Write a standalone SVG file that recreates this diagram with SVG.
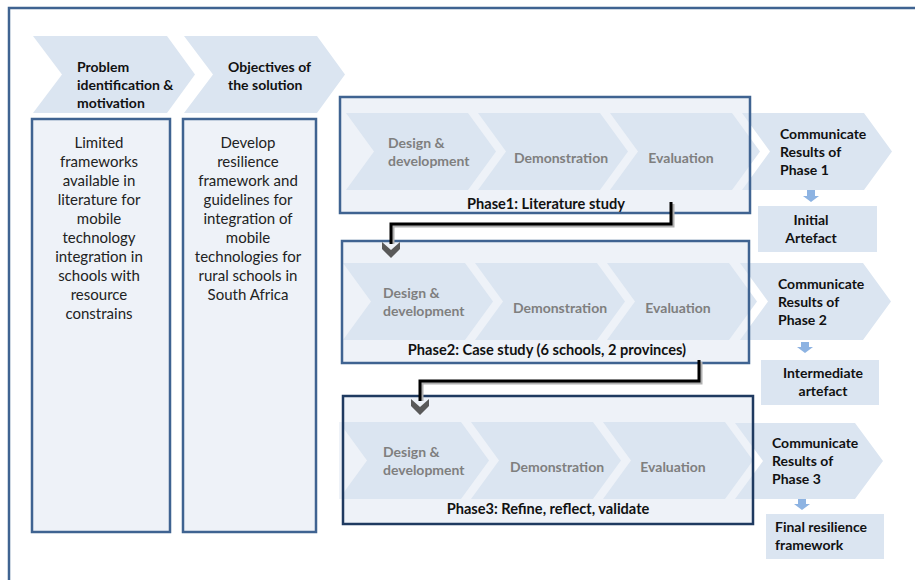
<svg xmlns="http://www.w3.org/2000/svg" width="915" height="580" viewBox="0 0 915 580">
<defs>
<style>
.chev{fill:#dbe5f1}
.pbox{fill:#eef2f8}
.pstroke{fill:none;stroke:#3f6391;stroke-width:2.5}
.pstroke3{fill:none;stroke:#1f3a60;stroke-width:2.5}
.tbox{fill:#eef2f8;stroke:#3f6391;stroke-width:2.5}
.abox{fill:#dbe5f1}
.t{font-family:Lato,"Liberation Sans",sans-serif;font-size:14px;font-weight:bold;fill:#111}
.p{font-family:Lato,"Liberation Sans",sans-serif;font-size:14.6px;font-weight:bold;fill:#111;text-anchor:middle}
.g{font-family:Lato,"Liberation Sans",sans-serif;font-size:14px;font-weight:bold;fill:#7f7f7f}
.b{font-family:Lato,"Liberation Sans",sans-serif;font-size:15px;fill:#222;text-anchor:middle}
.m{text-anchor:middle}
.conn{fill:none;stroke:#000;stroke-width:3}
.shadow{fill:none;stroke:#b0b0b0;stroke-width:3}
.darr{fill:#8db3e2}
.ahead{fill:#595959}
</style>
</defs>

<path d="M9,580 V8 H915" fill="none" stroke="#3f6391" stroke-width="2.5"/>

<g id="problem">
<path class="chev" d="M33,36 H167 L195,74.5 L167,113 H33 L62,74.5 Z"/>
<text class="t" x="77" y="71.5">Problem</text>
<text class="t" x="77" y="89.5">identification &amp;</text>
<text class="t" x="77" y="107.5">motivation</text>
</g>
<g id="objectives">
<path class="chev" d="M184,36 H317 L345,74.5 L317,113 H184 L213,74.5 Z"/>
<text class="t" x="228" y="71.5">Objectives of</text>
<text class="t" x="228" y="89.5">the solution</text>
</g>

<g id="problem-box">
<rect class="tbox" x="32" y="119" width="138" height="413"/>
<text class="b" x="99" y="148">Limited</text>
<text class="b" x="99" y="167">frameworks</text>
<text class="b" x="99" y="186">available in</text>
<text class="b" x="99" y="205">literature for</text>
<text class="b" x="99" y="224">mobile</text>
<text class="b" x="99" y="243">technology</text>
<text class="b" x="99" y="262">integration in</text>
<text class="b" x="99" y="281">schools with</text>
<text class="b" x="99" y="300">resource</text>
<text class="b" x="99" y="319">constrains</text>
</g>
<g id="objectives-box">
<rect class="tbox" x="183" y="119" width="133" height="413"/>
<text class="b" x="248" y="148">Develop</text>
<text class="b" x="248" y="167">resilience</text>
<text class="b" x="248" y="186">framework and</text>
<text class="b" x="248" y="205">guidelines for</text>
<text class="b" x="248" y="224">integration of</text>
<text class="b" x="248" y="243">mobile</text>
<text class="b" x="248" y="262">technologies for</text>
<text class="b" x="248" y="281">rural schools in</text>
<text class="b" x="248" y="300">South Africa</text>
</g>

<g id="phase1">
<rect class="pbox" x="340" y="97" width="410" height="116"/>
<path class="chev" d="M346,113 H468 L496,151.5 L468,190 H346 L374,151.5 Z"/>
<path class="chev" d="M478,113 H600 L628,151.5 L600,190 H478 L506,151.5 Z"/>
<path class="chev" d="M610,113 H732 L760,151.5 L732,190 H610 L638,151.5 Z"/>
<text class="g" x="388" y="148">Design &amp;</text>
<text class="g" x="388" y="166">development</text>
<text class="g m" x="561" y="163">Demonstration</text>
<text class="g m" x="681" y="163">Evaluation</text>
<text class="p" x="546" y="209">Phase1: Literature study</text>
</g>
<g id="communicate1">
<path class="chev" d="M742,113 H864 L892,151.5 L864,190 H742 L770,151.5 Z"/>
<text class="t" x="780" y="139">Communicate</text>
<text class="t" x="780" y="157">Results of</text>
<text class="t" x="780" y="175">Phase 1</text>
</g>
<rect class="pstroke" x="340" y="97" width="410" height="116"/>

<g id="phase2">
<rect class="pbox" x="342" y="241" width="407" height="122"/>
<path class="chev" d="M343,263 H465 L493,301.5 L465,340 H343 L371,301.5 Z"/>
<path class="chev" d="M475,263 H597 L625,301.5 L597,340 H475 L503,301.5 Z"/>
<path class="chev" d="M607,263 H729 L757,301.5 L729,340 H607 L635,301.5 Z"/>
<text class="g" x="383" y="298">Design &amp;</text>
<text class="g" x="383" y="316">development</text>
<text class="g m" x="560" y="313">Demonstration</text>
<text class="g m" x="678" y="313">Evaluation</text>
<text class="p" x="547" y="355">Phase2: Case study (6 schools, 2 provinces)</text>
</g>
<g id="communicate2">
<path class="chev" d="M740,263 H863 L891,301.5 L863,340 H740 L768,301.5 Z"/>
<text class="t" x="778" y="289">Communicate</text>
<text class="t" x="778" y="307">Results of</text>
<text class="t" x="778" y="325">Phase 2</text>
</g>
<rect class="pstroke" x="342" y="241" width="407" height="122"/>

<g id="phase3">
<rect class="pbox" x="343" y="396" width="410" height="128"/>
<path class="chev" d="M339,422 H461 L489,460.5 L461,499 H339 L367,460.5 Z"/>
<path class="chev" d="M471,422 H593 L621,460.5 L593,499 H471 L499,460.5 Z"/>
<path class="chev" d="M603,422 H725 L753,460.5 L725,499 H603 L631,460.5 Z"/>
<text class="g" x="383" y="457">Design &amp;</text>
<text class="g" x="383" y="475">development</text>
<text class="g m" x="557" y="472">Demonstration</text>
<text class="g m" x="673" y="472">Evaluation</text>
<text class="p" x="548" y="514">Phase3: Refine, reflect, validate</text>
</g>
<g id="communicate3">
<path class="chev" d="M735,423 H855 L883,461 L855,499 H735 L763,461 Z"/>
<text class="t" x="772" y="448">Communicate</text>
<text class="t" x="772" y="466">Results of</text>
<text class="t" x="772" y="484">Phase 3</text>
</g>
<rect class="pbox" x="339" y="422" width="4" height="77"/>
<rect class="pstroke3" x="343" y="396" width="410" height="128"/>

<g id="initial-artefact">
<rect class="abox" x="758" y="206" width="119" height="46"/>
<text class="t m" x="811" y="224.5">Initial</text>
<text class="t m" x="811" y="242.5">Artefact</text>
</g>
<g id="intermediate-artefact">
<rect class="abox" x="761" y="360" width="118" height="45"/>
<text class="t m" x="823" y="378">Intermediate</text>
<text class="t m" x="823" y="396">artefact</text>
</g>
<g id="final-framework">
<rect class="abox" x="766" y="514" width="118" height="45"/>
<text class="t" x="775" y="532">Final resilience</text>
<text class="t" x="775" y="550">framework</text>
</g>

<g id="connectors">
<path class="darr" d="M807,190 H815 V196 H819 L811,202 L803,196 H807 Z"/>
<path class="darr" d="M801,342 H809 V347 H813 L805,353 L797,347 H801 Z"/>
<path class="darr" d="M798,499 H806 V504 H810 L802,510 L794,504 H798 Z"/>
<path class="shadow" d="M673,204 V226 H393 V244"/>
<path class="conn" d="M671,202 V224 H391 V244"/>
<path class="ahead" d="M382,242 L391,250 L400,242 L400,249 L391,258 L382,249 Z"/>
<path class="shadow" d="M701,362 V383 H422 V401"/>
<path class="conn" d="M699,360 V381 H420 V401"/>
<path class="ahead" d="M411,399 L420,407 L429,399 L429,406 L420,415 L411,406 Z"/>
</g>
</svg>
